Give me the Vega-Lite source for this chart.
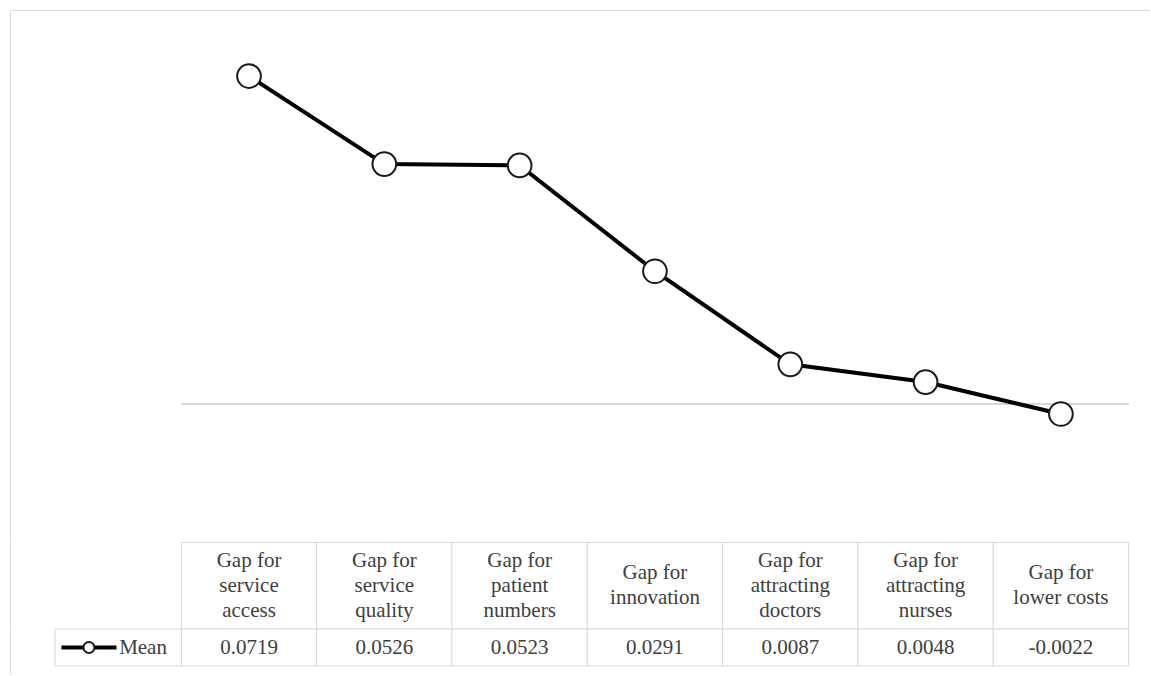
{
  "$schema": "https://vega.github.io/schema/vega-lite/v6.json",
  "autosize": "pad",
  "padding": {"left": 10, "top": 10, "right": 0, "bottom": 0},
  "background": "white",
  "spacing": 0,
  "bounds": "flush",
  "config": {
    "view": {"stroke": null},
    "font": "Liberation Serif",
    "locale": {"number": {"decimal": ".", "thousands": ",", "grouping": [3], "currency": ["$", ""], "minus": "-"}}
  },
  "datasets": {
    "gaps": [
      {"category": "Gap for service access", "header": "Gap for\nservice\naccess", "mean": 0.0719},
      {"category": "Gap for service quality", "header": "Gap for\nservice\nquality", "mean": 0.0526},
      {"category": "Gap for patient numbers", "header": "Gap for\npatient\nnumbers", "mean": 0.0523},
      {"category": "Gap for innovation", "header": "Gap for\ninnovation", "mean": 0.0291},
      {"category": "Gap for attracting doctors", "header": "Gap for\nattracting\ndoctors", "mean": 0.0087},
      {"category": "Gap for attracting nurses", "header": "Gap for\nattracting\nnurses", "mean": 0.0048},
      {"category": "Gap for lower costs", "header": "Gap for\nlower costs", "mean": -0.0022}
    ],
    "series": [{"series": "Mean"}]
  },
  "vconcat": [
    {
      "width": 1140,
      "height": 531,
      "data": {"name": "gaps"},
      "layer": [
        {
          "mark": {"type": "rule", "color": "#d9d9d9", "strokeWidth": 1},
          "encoding": {
            "x": {"datum": "Gap for service access", "type": "nominal", "bandPosition": 0,
              "scale": {"type": "band", "domain": ["label", "Gap for service access", "Gap for service quality", "Gap for patient numbers", "Gap for innovation", "Gap for attracting doctors", "Gap for attracting nurses", "Gap for lower costs"], "paddingInner": 0, "paddingOuter": 0.2125, "align": 0.627},
              "axis": {"orient": "top", "labels": false, "ticks": false, "grid": false, "title": null, "domainColor": "#d9d9d9", "domainWidth": 1}},
            "x2": {"datum": "Gap for lower costs", "bandPosition": 1},
            "y": {"datum": 0, "type": "quantitative",
              "scale": {"domain": [-0.03004, 0.08638], "nice": false, "zero": false},
              "axis": {"labels": false, "ticks": false, "grid": false, "title": null, "domainColor": "#d9d9d9", "domainWidth": 1}}
          }
        },
        {
          "mark": {"type": "line", "color": "#000000", "strokeWidth": 4},
          "encoding": {
            "x": {"field": "category", "type": "nominal"},
            "y": {"field": "mean", "type": "quantitative"}
          }
        },
        {
          "mark": {"type": "point", "shape": "circle", "filled": true, "fill": "white", "stroke": "#1a1a1a", "strokeWidth": 2, "size": 560, "opacity": 1},
          "encoding": {
            "x": {"field": "category", "type": "nominal"},
            "y": {"field": "mean", "type": "quantitative"}
          }
        }
      ]
    },
    {
      "width": 1140,
      "height": 88,
      "data": {"name": "gaps"},
      "encoding": {
        "x": {"field": "category", "type": "nominal",
          "scale": {"type": "band", "domain": ["label", "Gap for service access", "Gap for service quality", "Gap for patient numbers", "Gap for innovation", "Gap for attracting doctors", "Gap for attracting nurses", "Gap for lower costs"], "paddingInner": 0, "paddingOuter": 0.2125, "align": 0.627},
          "axis": null},
        "y": {"datum": "header", "type": "nominal",
          "scale": {"type": "band", "domain": ["header"], "paddingInner": 0, "paddingOuter": 0.0087, "align": 1},
          "axis": {"labels": false, "ticks": false, "grid": false, "title": null, "domainColor": "#d9d9d9", "domainWidth": 1}}
      },
      "layer": [
        {"mark": {"type": "rect", "fill": "white", "stroke": "#d9d9d9", "strokeWidth": 1}},
        {
          "transform": [{"filter": {"not": {"field": "category", "oneOf": ["Gap for innovation", "Gap for lower costs"]}}}],
          "mark": {"type": "text", "lineBreak": "\n", "fontSize": 21, "lineHeight": 25, "color": "#404040", "baseline": "middle", "align": "center"},
          "encoding": {
            "y": {"datum": "header", "type": "nominal", "bandPosition": 0.211,
              "axis": {"labels": false, "ticks": false, "grid": false, "title": null, "domainColor": "#d9d9d9", "domainWidth": 1}},
            "text": {"field": "header", "type": "nominal"}
          }
        },
        {
          "transform": [{"filter": {"field": "category", "oneOf": ["Gap for innovation", "Gap for lower costs"]}}],
          "mark": {"type": "text", "lineBreak": "\n", "fontSize": 21, "lineHeight": 25, "color": "#404040", "baseline": "middle", "align": "center"},
          "encoding": {
            "y": {"datum": "header", "type": "nominal", "bandPosition": 0.355,
              "axis": {"labels": false, "ticks": false, "grid": false, "title": null, "domainColor": "#d9d9d9", "domainWidth": 1}},
            "text": {"field": "header", "type": "nominal"}
          }
        }
      ]
    },
    {
      "width": 1140,
      "height": 45,
      "encoding": {
        "y": {"datum": "value", "type": "nominal",
          "scale": {"type": "band", "domain": ["value"], "paddingInner": 0, "paddingOuter": 0.108, "align": 0},
          "axis": {"labels": false, "ticks": false, "grid": false, "title": null, "domainColor": "#d9d9d9", "domainWidth": 1}}
      },
      "layer": [
        {
          "data": {"name": "gaps"},
          "mark": {"type": "rect", "fill": "white", "stroke": "#d9d9d9", "strokeWidth": 1},
          "encoding": {"x": {"field": "category", "type": "nominal",
            "scale": {"type": "band", "domain": ["label", "Gap for service access", "Gap for service quality", "Gap for patient numbers", "Gap for innovation", "Gap for attracting doctors", "Gap for attracting nurses", "Gap for lower costs"], "paddingInner": 0, "paddingOuter": 0.2125, "align": 0.627},
            "axis": null}}
        },
        {
          "data": {"name": "gaps"},
          "mark": {"type": "text", "fontSize": 21, "color": "#404040", "baseline": "middle", "align": "center"},
          "encoding": {
            "x": {"field": "category", "type": "nominal"},
            "text": {"field": "mean", "type": "quantitative", "format": ".4f"}
          }
        },
        {
          "data": {"name": "series"},
          "mark": {"type": "rect", "fill": "white", "stroke": "#d9d9d9", "strokeWidth": 1},
          "encoding": {
            "x": {"datum": "label", "type": "nominal", "bandPosition": 0.066},
            "x2": {"datum": "label", "bandPosition": 1}
          }
        },
        {
          "data": {"name": "series"},
          "mark": {"type": "point", "shape": "M-1,0L1,0", "filled": false, "stroke": "#000000", "strokeWidth": 4, "size": 3025, "opacity": 1},
          "encoding": {
            "x": {"datum": "label", "type": "nominal", "bandPosition": 0.317}
          }
        },
        {
          "data": {"name": "series"},
          "mark": {"type": "point", "shape": "circle", "filled": true, "fill": "white", "stroke": "#1a1a1a", "strokeWidth": 2, "size": 121, "opacity": 1},
          "encoding": {
            "x": {"datum": "label", "type": "nominal", "bandPosition": 0.317}
          }
        },
        {
          "data": {"name": "series"},
          "mark": {"type": "text", "fontSize": 21, "color": "#404040", "baseline": "middle", "align": "left"},
          "encoding": {
            "x": {"datum": "label", "type": "nominal", "bandPosition": 0.54},
            "text": {"field": "series", "type": "nominal"}
          }
        }
      ]
    }
  ]
}
